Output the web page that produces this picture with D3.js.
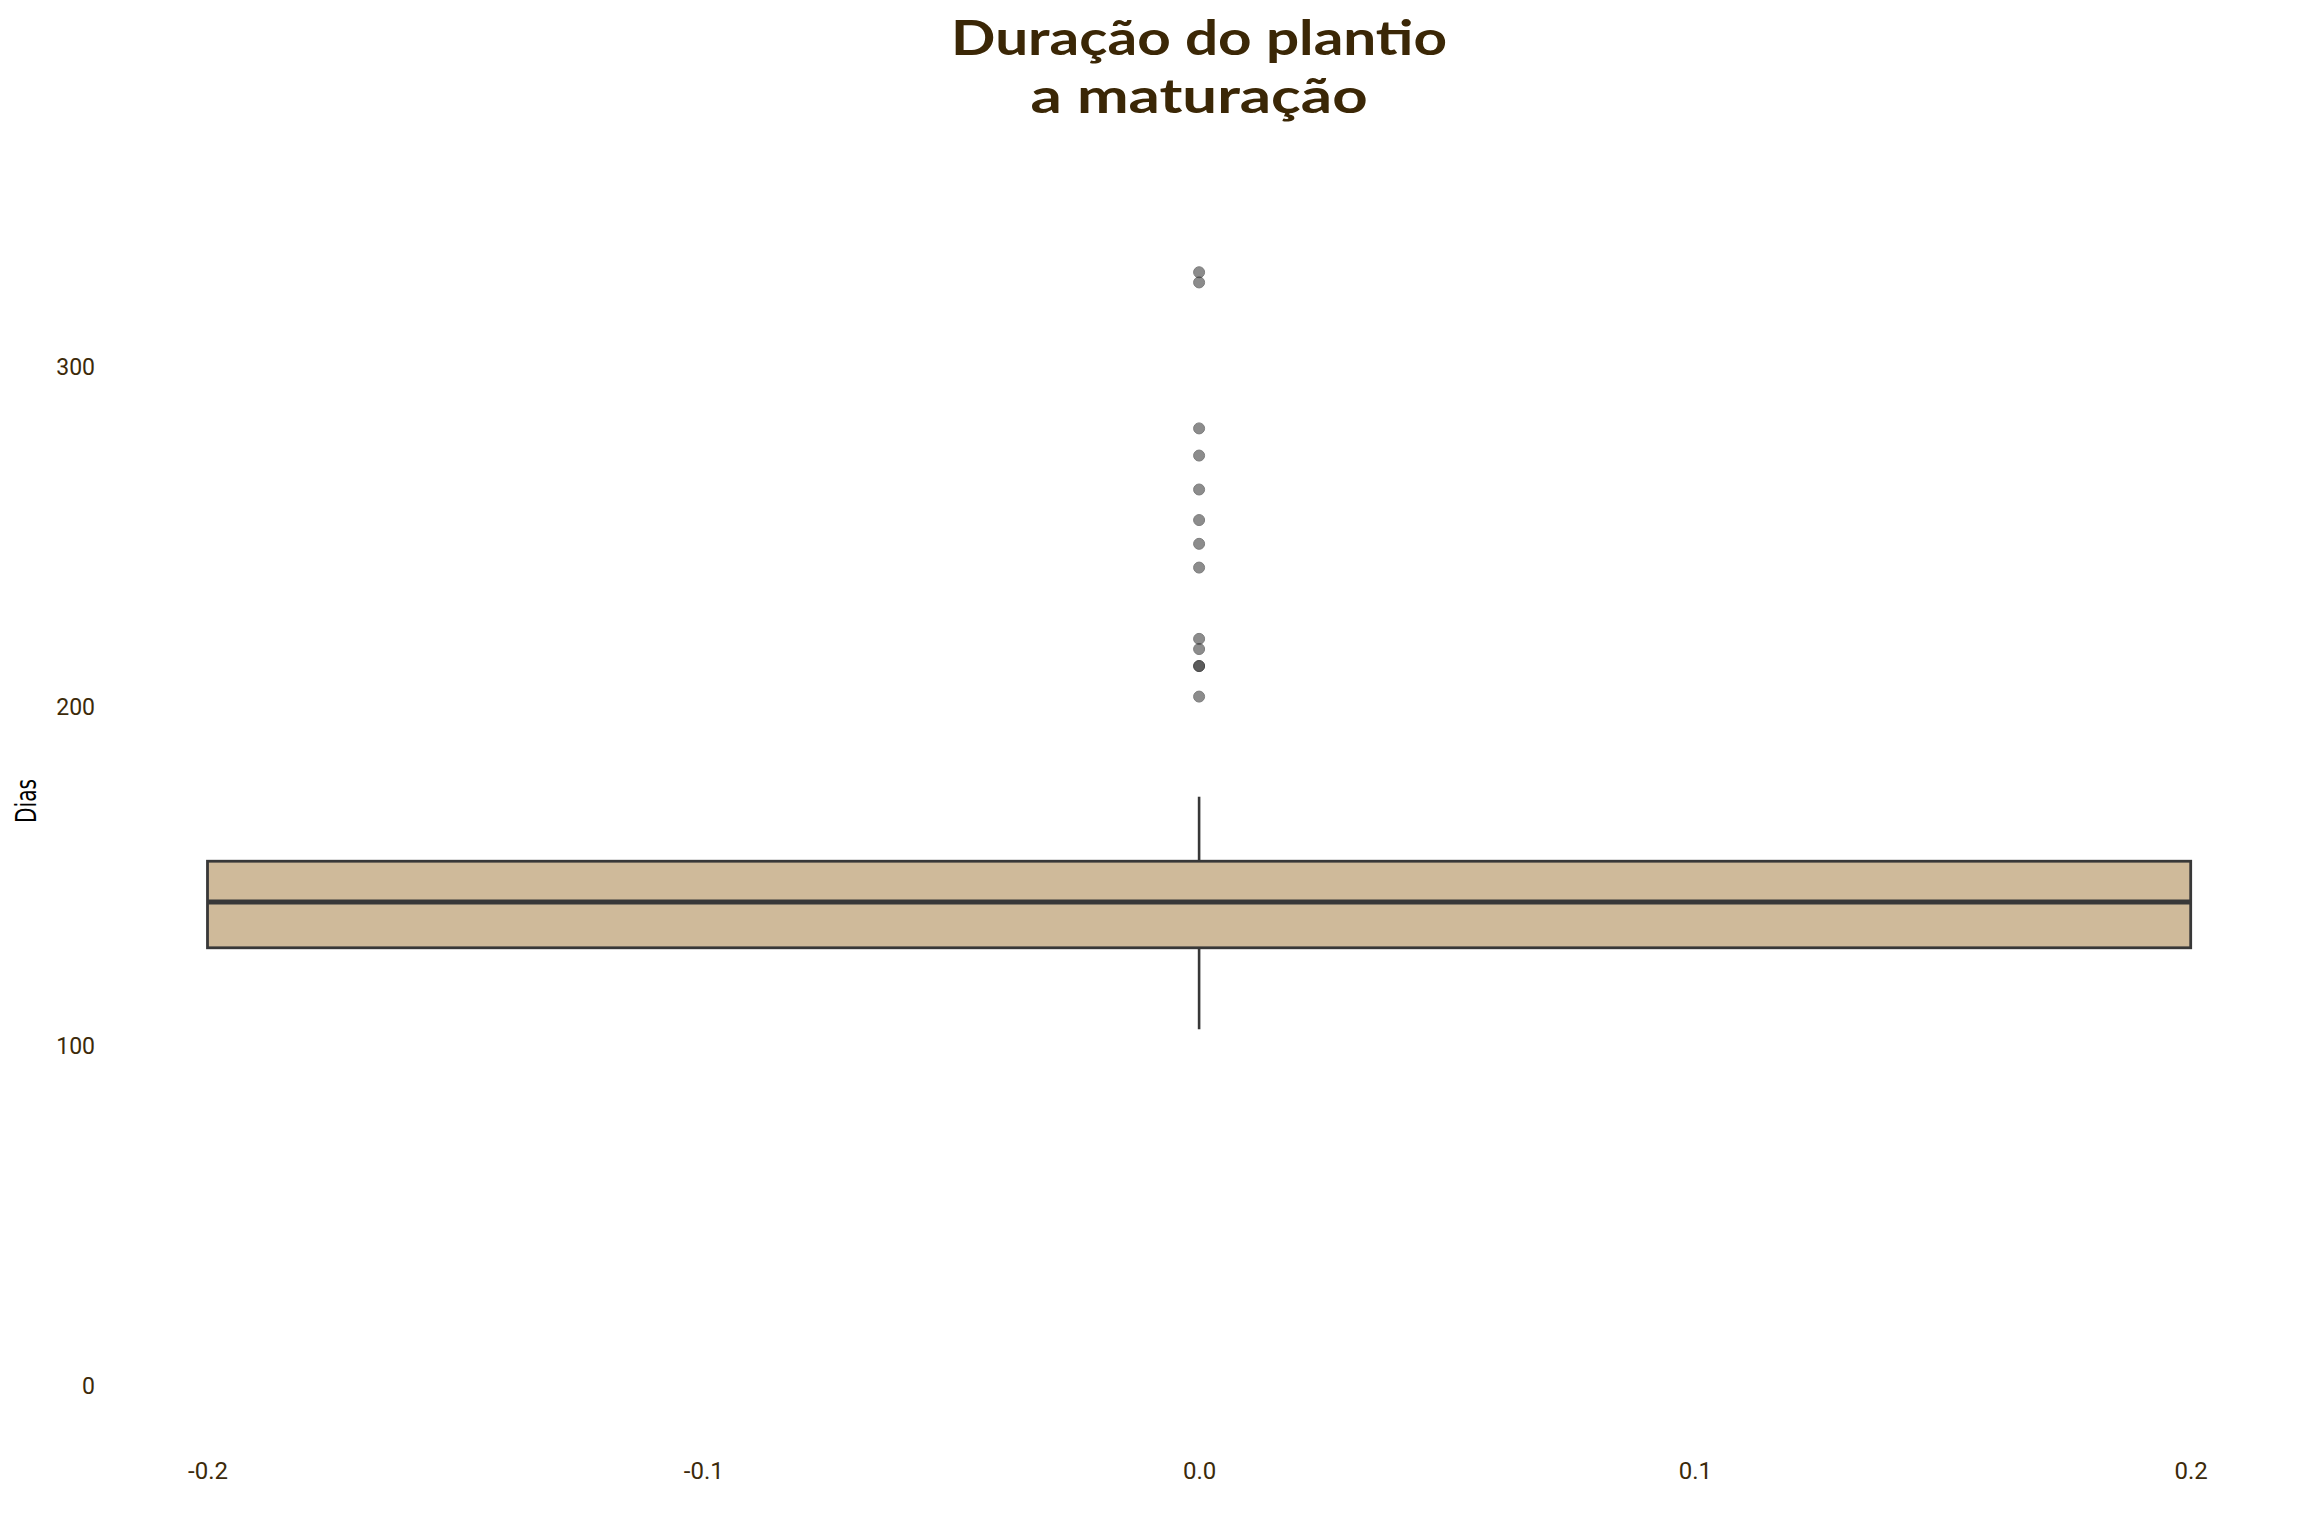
<!DOCTYPE html>
<html>
<head>
<meta charset="utf-8">
<script src="https://cdn.jsdelivr.net/npm/d3@7"></script>
<style>
  html, body { margin: 0; padding: 0; background: #ffffff; }
  svg { display: block; }
</style>
</head>
<body>
<div id="chart"></div>
<script>
// ---- data ----
const titleLines = ["Duração do plantio", "a maturação"];
const yLabel = "Dias";
const yTicks = [0, 100, 200, 300];
const xTicks = [-0.2, -0.1, 0.0, 0.1, 0.2];
const boxStats = { low: 105, q1: 129, median: 142.5, q3: 154.5, high: 173.5 };
const outliers = [328, 325, 282, 274, 264, 255, 248, 241, 220, 217, 212, 212, 203];

// ---- layout ----
const W = 2304, H = 1536;
const svg = d3.select("#chart").append("svg").attr("width", W).attr("height", H);

const x = d3.scaleLinear().domain([-0.2, 0.2]).range([207.5, 2190.7]);
const y = d3.scaleLinear().domain([0, 300]).range([1385.7, 367.3]);

const brown = "#3c2a0a";
const dark = "#383838";
const loc = d3.formatLocale({ decimal: ".", thousands: ",", grouping: [3], currency: ["", ""], minus: "-" });

// title (two separate text lines)
const titleWidths = [496, 337];
titleLines.forEach((line, i) => {
  svg.append("text")
    .attr("x", x(0))
    .attr("y", 55 + i * 58)
    .attr("text-anchor", "middle")
    .attr("font-family", "Lato, 'Noto Sans', sans-serif")
    .attr("font-weight", 700)
    .attr("font-size", 48)
    .attr("textLength", titleWidths[i])
    .attr("lengthAdjust", "spacingAndGlyphs")
    .attr("fill", "#3b2706")
    .text(line);
});

// y axis
const yAxis = svg.append("g")
  .attr("transform", "translate(104,0)")
  .call(d3.axisLeft(y).tickValues(yTicks).tickSize(0).tickPadding(9).tickFormat(loc.format("d")));
yAxis.select(".domain").remove();
yAxis.selectAll("text")
  .attr("font-family", "Roboto, sans-serif")
  .attr("font-size", 23)
  .attr("fill", brown);

// x axis
const xAxis = svg.append("g")
  .attr("transform", "translate(0,1452)")
  .call(d3.axisBottom(x).tickValues(xTicks).tickSize(0).tickPadding(10).tickFormat(loc.format(".1f")));
xAxis.select(".domain").remove();
xAxis.selectAll("text")
  .attr("font-family", "Roboto, sans-serif")
  .attr("font-size", 24)
  .attr("fill", brown);

// y label
svg.append("text")
  .attr("transform", "translate(36,801) rotate(-90)")
  .attr("text-anchor", "middle")
  .attr("font-family", "'Liberation Sans Narrow', 'DejaVu Sans Condensed', sans-serif")
  .attr("font-size", 28)
  .attr("textLength", 44)
  .attr("lengthAdjust", "spacingAndGlyphs")
  .attr("fill", "#000")
  .text(yLabel);

// box
const g = svg.append("g");
g.append("line")
  .attr("x1", x(0)).attr("x2", x(0))
  .attr("y1", y(boxStats.q3)).attr("y2", y(boxStats.high))
  .attr("stroke", dark).attr("stroke-width", 2.6);
g.append("line")
  .attr("x1", x(0)).attr("x2", x(0))
  .attr("y1", y(boxStats.q1)).attr("y2", y(boxStats.low))
  .attr("stroke", dark).attr("stroke-width", 2.6);
g.append("rect")
  .attr("x", x(-0.2)).attr("width", x(0.2) - x(-0.2))
  .attr("y", y(boxStats.q3)).attr("height", y(boxStats.q1) - y(boxStats.q3))
  .attr("fill", "#cfba9a")
  .attr("stroke", dark).attr("stroke-width", 2.8);
g.append("line")
  .attr("x1", x(-0.2)).attr("x2", x(0.2))
  .attr("y1", y(boxStats.median)).attr("y2", y(boxStats.median))
  .attr("stroke", dark).attr("stroke-width", 5);

// outliers
g.selectAll("circle.out").data(outliers).join("circle")
  .attr("class", "out")
  .attr("cx", x(0))
  .attr("cy", d => y(d))
  .attr("r", 5.5)
  .attr("fill", "#3a3a3a")
  .attr("stroke", "#222")
  .attr("stroke-width", 1)
  .attr("opacity", 0.58);
</script>
</body>
</html>
